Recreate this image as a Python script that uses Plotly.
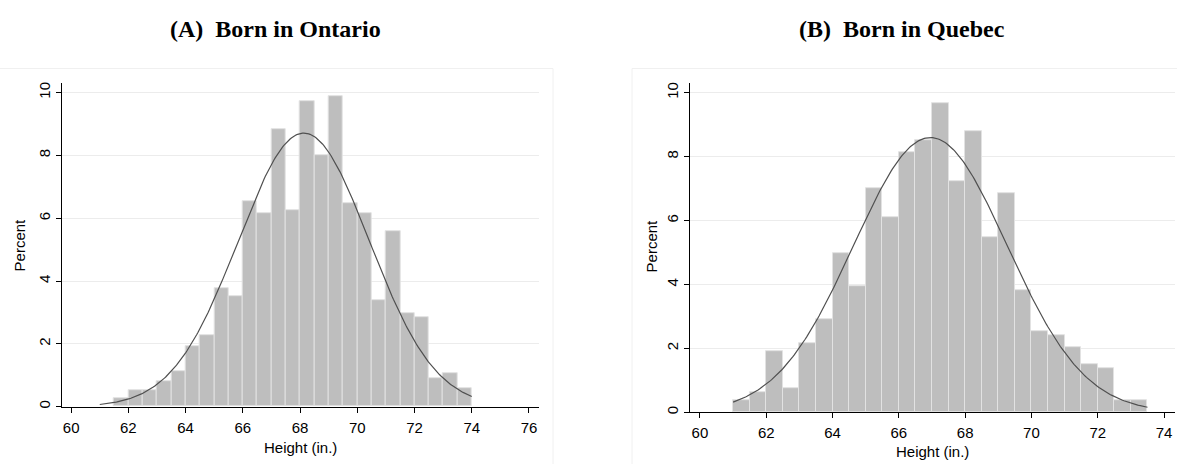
import numpy as np
import plotly.graph_objects as go

W, H = 1177, 464

# ---- Data ----
bin_width = 0.5

ontario_bin_start = [61.5, 62.0, 62.5, 63.0, 63.5, 64.0, 64.5, 65.0, 65.5, 66.0, 66.5, 67.0, 67.5,
                     68.0, 68.5, 69.0, 69.5, 70.0, 70.5, 71.0, 71.5, 72.0, 72.5, 73.0, 73.5]
ontario_percent = [0.26, 0.53, 0.53, 0.81, 1.13, 1.92, 2.29, 3.78, 3.51, 6.53, 6.15, 8.82, 6.27,
                   9.73, 8.01, 9.88, 6.49, 6.15, 3.40, 5.58, 2.99, 2.84, 0.90, 1.07, 0.58]

quebec_bin_start = [61.0, 61.5, 62.0, 62.5, 63.0, 63.5, 64.0, 64.5, 65.0, 65.5, 66.0, 66.5, 67.0,
                    67.5, 68.0, 68.5, 69.0, 69.5, 70.0, 70.5, 71.0, 71.5, 72.0, 72.5, 73.0]
quebec_percent = [0.38, 0.64, 1.92, 0.77, 2.17, 2.93, 4.97, 3.95, 7.01, 6.10, 8.15, 8.52, 9.66,
                  7.24, 8.79, 5.47, 6.87, 3.82, 2.54, 2.41, 2.03, 1.52, 1.39, 0.38, 0.38]

# fitted normal density overlay (mean, sd, data range) as drawn by the original
ontario_normal = dict(mean=68.13, sd=2.29, lo=61.0, hi=74.0)
quebec_normal = dict(mean=66.95, sd=2.32, lo=61.0, hi=73.5)

x_ticks = [60, 62, 64, 66, 68, 70, 72, 74, 76]
y_ticks = [0, 2, 4, 6, 8, 10]
titles = ["(A)  Born in Ontario", "(B)  Born in Quebec"]


def normal_curve(p):
    xs = np.linspace(p["lo"], p["hi"], 300)
    ys = 100 * bin_width * np.exp(-0.5 * ((xs - p["mean"]) / p["sd"]) ** 2) / (p["sd"] * np.sqrt(2 * np.pi))
    return xs, ys


fig = go.Figure()

panels = [
    dict(starts=ontario_bin_start, vals=ontario_percent, norm=ontario_normal,
         xd=[61.7 / W, 539 / W], yd=[(H - 408.3) / H, (H - 82.7) / H], xr=[59.67, 76.35],
         xa="x", ya="y"),
    dict(starts=quebec_bin_start, vals=quebec_percent, norm=quebec_normal,
         xd=[690 / W, 1175 / W], yd=[(H - 414) / H, (H - 82.7) / H], xr=[59.70, 74.33],
         xa="x2", ya="y2"),
]

font_fam = "Liberation Sans, Arial, sans-serif"
for i, p in enumerate(panels):
    centers = [s + bin_width / 2 for s in p["starts"]]
    fig.add_trace(go.Bar(x=centers, y=p["vals"], width=bin_width,
                         marker=dict(color="#bebebe", line=dict(color="#e2e2e2", width=1)),
                         xaxis=p["xa"], yaxis=p["ya"], showlegend=False, hoverinfo="x+y"))
    cx, cy = normal_curve(p["norm"])
    fig.add_trace(go.Scatter(x=cx, y=cy, mode="lines", line=dict(color="#505050", width=1.2),
                             xaxis=p["xa"], yaxis=p["ya"], showlegend=False))
    sfx = "" if i == 0 else "2"
    fig.layout["xaxis" + sfx] = dict(
        domain=p["xd"], range=p["xr"], tickvals=x_ticks, ticks="outside", ticklen=5,
        tickcolor="#000", showline=True, linecolor="#000", linewidth=1.3, showgrid=False,
        zeroline=False, anchor="y" + sfx, tickfont=dict(family=font_fam, size=15, color="#000"),
        ticklabelstandoff=2, fixedrange=True)
    fig.layout["yaxis" + sfx] = dict(
        domain=p["yd"], range=[0, 10.3], tickvals=y_ticks, ticks="outside", ticklen=5,
        tickcolor="#000", showline=True, linecolor="#000", linewidth=1.3, showgrid=True,
        gridcolor="#ececec", gridwidth=1, zeroline=False, anchor="x" + sfx, tickangle=-90,
        tickfont=dict(family=font_fam, size=15, color="#000"), fixedrange=True)

annotations = [
    dict(text="<b>" + titles[0] + "</b>", x=275 / W, y=(H - 28) / H),
    dict(text="<b>" + titles[1] + "</b>", x=902 / W, y=(H - 28) / H),
]
annotations = [dict(a, xref="paper", yref="paper", showarrow=False, xanchor="center", yanchor="middle",
                    font=dict(family="Liberation Serif, Times New Roman, serif", size=24, color="#000"))
               for a in annotations]
axis_titles = [
    dict(text="Percent", x=19 / W, y=(H - 246) / H, textangle=-90),
    dict(text="Height (in.)", x=300 / W, y=(H - 449) / H, textangle=0),
    dict(text="Percent", x=651 / W, y=(H - 247) / H, textangle=-90),
    dict(text="Height (in.)", x=932 / W, y=(H - 453.5) / H, textangle=0),
]
for a in axis_titles:
    annotations.append(dict(a, xref="paper", yref="paper", showarrow=False, xanchor="center",
                            yanchor="middle", font=dict(family=font_fam, size=15, color="#000")))

shapes = [
    dict(type="rect", xref="paper", yref="paper", x0=-2 / W, x1=553 / W, y0=-0.05, y1=(H - 68) / H,
         line=dict(color="#f0f0f0", width=1), layer="below"),
    dict(type="rect", xref="paper", yref="paper", x0=632 / W, x1=1.01, y0=-0.05, y1=(H - 68) / H,
         line=dict(color="#f0f0f0", width=1), layer="below"),
]

fig.update_layout(width=W, height=H, margin=dict(l=0, r=0, t=0, b=0), paper_bgcolor="#fff",
                  plot_bgcolor="rgba(0,0,0,0)", bargap=0, annotations=annotations, shapes=shapes)

fig.write_html("out.html", config={"displayModeBar": False},
               post_script="document.body.style.margin='0';document.body.style.overflow='hidden';")
